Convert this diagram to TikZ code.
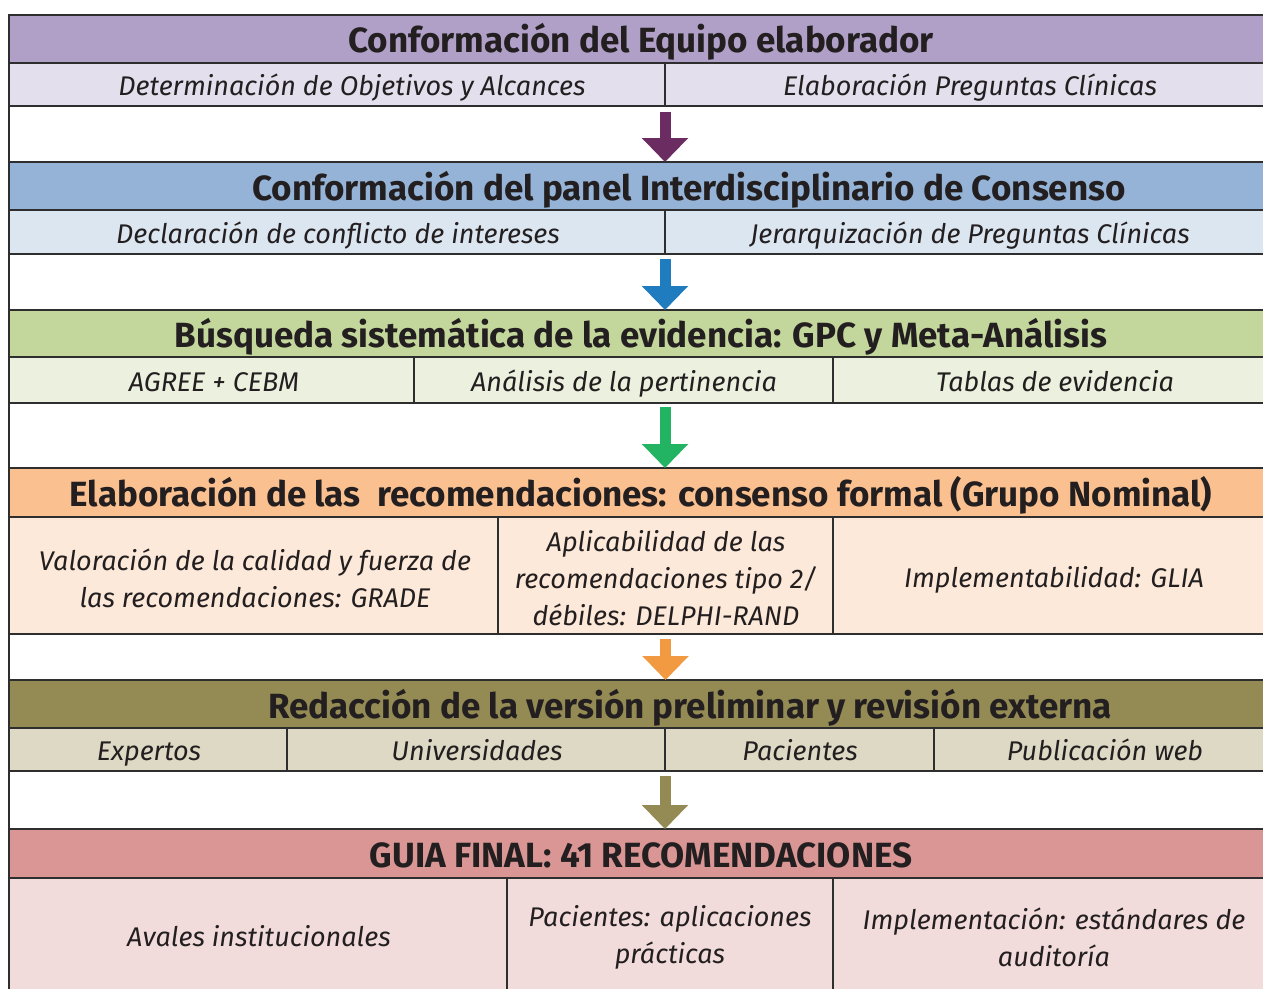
\documentclass[tikz,border=0pt]{standalone}
\usepackage{fontspec}
\setmainfont{Fira Sans}
\usetikzlibrary{arrows.meta}
\definecolor{lineC}{HTML}{2E2E2E}
\definecolor{txt}{HTML}{231F20}
\definecolor{pH}{HTML}{B09FC6}\definecolor{pS}{HTML}{E4DFEC}\definecolor{pA}{HTML}{6A2C61}
\definecolor{bH}{HTML}{95B3D7}\definecolor{bS}{HTML}{DCE6F1}\definecolor{bA}{HTML}{1F7DBF}
\definecolor{gH}{HTML}{C3D69B}\definecolor{gS}{HTML}{EBF1DE}\definecolor{gA}{HTML}{22B463}
\definecolor{oH}{HTML}{FAC090}\definecolor{oS}{HTML}{FDE9D9}\definecolor{oA}{HTML}{F19A42}
\definecolor{vH}{HTML}{948A54}\definecolor{vS}{HTML}{DDD9C4}\definecolor{vA}{HTML}{948A54}
\definecolor{rH}{HTML}{D99694}\definecolor{rS}{HTML}{F2DCDB}
\newcommand\tcell[7]{\node[#1, fill=#2, minimum width={#6-#4}, minimum height={#7-#5}] (#3) at ({(#4+#6)/2},{(#5+#7)/2}) {};}
\begin{document}
\begin{tikzpicture}[x=1pt,y=-1pt,
  cell/.style={draw=lineC, line width=1.6pt, inner sep=0pt, outer sep=0pt},
  hdrtxt/.style={text=txt, inner sep=0pt, font=\fontsize{35}{40}\selectfont\bfseries, text height=24pt, text depth=0pt},
  subtxt/.style={text=txt, inner sep=0pt, font=\fontsize{27}{37}\selectfont\itshape, text height=18.5pt, text depth=0pt},
  multitxt/.style={text=txt, inner sep=0pt, font=\fontsize{27}{37}\selectfont\itshape, align=center},
  flow/.style={line width=11pt, -{Triangle[width=45pt,length=24pt]}}]
\useasboundingbox (0,0) rectangle (1263,988);
\fill[white] (0,0) rectangle (1263,988);
% row 1
\tcell{cell}{pH}{h1}{9}{15}{1277}{63}
\tcell{cell}{pS}{s1a}{9}{63}{665}{106}
\tcell{cell}{pS}{s1b}{665}{63}{1277}{106}
% row 2
\tcell{cell}{bH}{h2}{9}{162}{1277}{210}
\tcell{cell}{bS}{s2a}{9}{210}{665}{254}
\tcell{cell}{bS}{s2b}{665}{210}{1277}{254}
% row 3
\tcell{cell}{gH}{h3}{9}{310}{1277}{357}
\tcell{cell}{gS}{s3a}{9}{357}{414}{403}
\tcell{cell}{gS}{s3b}{414}{357}{833}{403}
\tcell{cell}{gS}{s3c}{833}{357}{1277}{403}
% row 4
\tcell{cell}{oH}{h4}{9}{468}{1277}{517}
\tcell{cell}{oS}{s4a}{9}{517}{498}{634}
\tcell{cell}{oS}{s4b}{498}{517}{833}{634}
\tcell{cell}{oS}{s4c}{833}{517}{1277}{634}
% row 5
\tcell{cell}{vH}{h5}{9}{680}{1277}{728}
\tcell{cell}{vS}{s5a}{9}{728}{287}{771}
\tcell{cell}{vS}{s5b}{287}{728}{665}{771}
\tcell{cell}{vS}{s5c}{665}{728}{934}{771}
\tcell{cell}{vS}{s5d}{934}{728}{1277}{771}
% row 6
\tcell{cell}{rH}{h6}{9}{829}{1277}{878}
\tcell{cell}{rS}{s6a}{9}{878}{507}{996}
\tcell{cell}{rS}{s6b}{507}{878}{833}{996}
\tcell{cell}{rS}{s6c}{833}{878}{1277}{996}
% left border through the gaps
\draw[lineC, line width=1.6pt] (h1.north west) -- (s6a.south west);
% texts
\node[hdrtxt] (h1t) at (641,40) {Conformación del Equipo elaborador};
\node[subtxt] (s1at) at (352,86) {Determinación de Objetivos y Alcances};
\node[subtxt] (s1bt) at (970,86) {Elaboración Preguntas Clínicas};
\node[hdrtxt] (h2t) at (689,188) {Conformación del panel Interdisciplinario de Consenso};
\node[subtxt] (s2at) at (338,234) {Declaración de conflicto de intereses};
\node[subtxt] (s2bt) at (970,234) {Jerarquización de Preguntas Clínicas};
\node[hdrtxt] (h3t) at (641,335) {Búsqueda sistemática de la evidencia: GPC y Meta-Análisis};
\node[subtxt] (s3at) at (214,382) {AGREE + CEBM};
\node[subtxt] (s3bt) at (624,382) {Análisis de la pertinencia};
\node[subtxt] (s3ct) at (1055,382) {Tablas de evidencia};
\node[hdrtxt] (h4t) at (641,494) {Elaboración de las\ \ recomendaciones: consenso formal (Grupo Nominal)};
\node[multitxt] (s4at) at (255,578) {Valoración de la calidad y fuerza de\\las recomendaciones: GRADE};
\node[multitxt] (s4bt) at (666,578) {Aplicabilidad de las\\recomendaciones tipo 2/\\débiles: DELPHI-RAND};
\node[subtxt] (s4ct) at (1054,578) {Implementabilidad: GLIA};
\node[hdrtxt] (h5t) at (690,706) {Redacción de la versión preliminar y revisión externa};
\node[subtxt] (s5at) at (149,751) {Expertos};
\node[subtxt] (s5bt) at (477,751) {Universidades};
\node[subtxt] (s5ct) at (800,751) {Pacientes};
\node[subtxt] (s5dt) at (1105,751) {Publicación web};
\node[hdrtxt] (h6t) at (641,855) {GUIA FINAL: 41 RECOMENDACIONES};
\node[subtxt] (s6at) at (259,937) {Avales institucionales};
\node[multitxt] (s6bt) at (670,937) {Pacientes: aplicaciones\\prácticas};
\node[multitxt] (s6ct) at (1054,937) {Implementación: estándares de\\auditoría};
% arrows
\draw[flow, pA] ([yshift=-6pt]s1a.south east) -- (s1a.east |- h2.north);
\draw[flow, bA] ([yshift=-5pt]s2a.south east) -- (s2a.east |- h3.north);
\draw[flow, gA] ([yshift=-4pt]s2a.east |- s3b.south) -- (s2a.east |- h4.north);
\draw[flow, oA] ([yshift=-5pt]s4b.south) -- (s4b.south |- h5.north);
\draw[flow, vA] ([yshift=-5pt]s5b.south east) -- (s5b.east |- h6.north);
\end{tikzpicture}
\end{document}
